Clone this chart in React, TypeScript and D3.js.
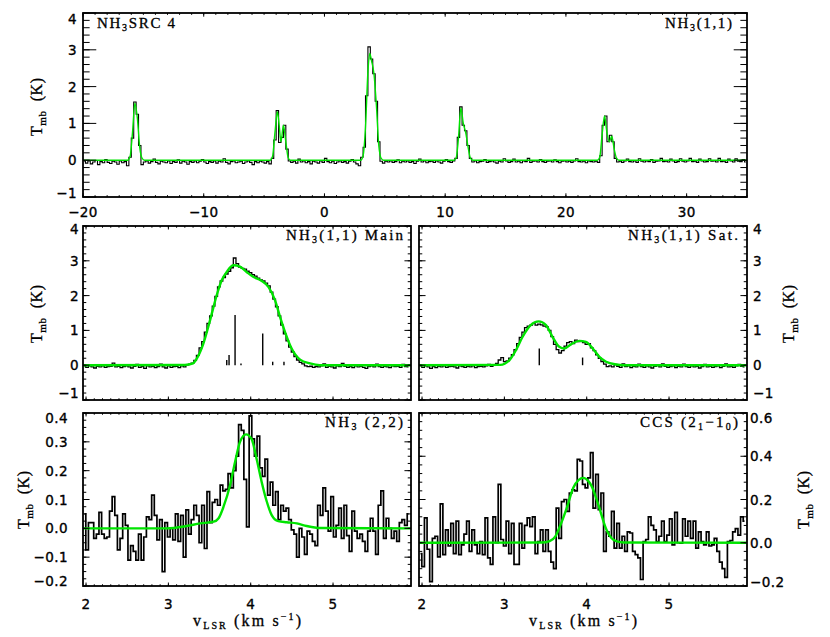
import React from 'react'
import * as d3 from 'd3'

// ---- tick values ----
const topTicksX = [-20, -10, 0, 10, 20, 30]
const topTicksY = [-1, 0, 1, 2, 3, 4]
const lowTicksX = [2, 3, 4, 5]
const nh11TicksY = [-1, 0, 1, 2, 3, 4]
const nh22TicksY = [-0.2, -0.1, 0, 0.1, 0.2, 0.3, 0.4]
const ccsTicksY = [-0.2, 0, 0.2, 0.4, 0.6]

// ---- top panel: full NH3(1,1) spectrum, channel centres from -19.9 km/s, 0.2 km/s wide ----
const topV0 = -19.9
const topDv = 0.2
const topT = [
  -0.03, -0.08, -0.02, -0.1, -0.05, -0.01, -0.12, -0.04, -0.07, 0.02,
  -0.06, -0.09, -0.03, -0.05, -0.11, -0.02, -0.07, -0.04, -0.15,
  0.08, 0.6, 1.58, 1.25, 0.4, -0.12,
  -0.05, -0.02, -0.08, -0.04, 0.03, -0.06, -0.1, -0.03, -0.05, -0.07,
  -0.02, -0.09, -0.04, -0.06, 0.01, -0.08, -0.03, -0.05, -0.11, -0.04,
  -0.06, -0.02, -0.07, -0.03, 0.02, -0.05, -0.09, -0.04, -0.06, -0.02,
  -0.08, -0.03, -0.05, 0.04, -0.06, -0.1, -0.04, -0.02, -0.07, -0.05,
  -0.03, -0.09, -0.05, -0.02, -0.06, -0.12, -0.04, -0.07, -0.03, -0.05,
  -0.08, -0.04, -0.1,
  0.05, 0.55, 1.35, 0.48, 0.62, 0.95, 0.3, -0.02,
  -0.06, -0.03, -0.08, 0.03, -0.05, -0.02, -0.07, -0.04, -0.1, -0.03,
  -0.05, -0.08, -0.02, -0.06, 0.05, -0.04, -0.07, -0.03, -0.09, -0.05,
  -0.02, -0.06, -0.04, -0.08, -0.03, 0.02, -0.05, -0.1, -0.15,
  0.08, 0.35, 1.75, 3.08, 2.75, 2.35, 1.6, 0.5, -0.03,
  -0.08, -0.03, -0.05, -0.02, -0.06, -0.04, 0.01, -0.07, -0.03, -0.05,
  -0.02, -0.06, -0.04, -0.09, -0.03, 0.03, -0.05, -0.02, -0.07, -0.04,
  -0.03, -0.06, -0.02, -0.05, -0.08, -0.03, 0.02, -0.04, -0.06, -0.02,
  0.05, 0.62, 1.45, 0.95, 0.8, 0.4, 0.05,
  -0.05, -0.02, -0.07, -0.04, -0.03, 0.02, -0.06, -0.04, -0.02, -0.05,
  -0.08, -0.03, -0.05, 0.04, -0.02, -0.06, -0.04, 0.03, -0.05, -0.03,
  -0.07, -0.02, -0.04, 0.05, -0.06, -0.03, -0.02, -0.05, 0.02, -0.04,
  -0.06, -0.03, -0.02, -0.05, 0.01, -0.04, -0.07, -0.03, -0.02, -0.05,
  -0.03, -0.06, -0.02, 0.04, -0.04, -0.05, -0.03, -0.07, -0.02, -0.04,
  -0.05, -0.03, -0.06,
  0.12, 0.95, 1.2, 0.5, 0.68, 0.5, 0.05,
  -0.05, -0.03, -0.06, -0.02, 0.03, -0.04, -0.05, -0.02, -0.06, 0.04,
  -0.03, -0.05, -0.02, -0.04, 0.02, -0.06, -0.03, -0.02, 0.05, -0.04,
  -0.03, -0.05, 0.03, -0.02, -0.06, -0.04, 0.04, -0.03, -0.05, -0.02,
  0.05, -0.04, -0.03, -0.06, 0.03, -0.02, -0.05, -0.04, 0.04, -0.03,
  -0.02, -0.05, 0.05, -0.04, -0.03, -0.06, 0.03, -0.02, -0.05, 0.04,
  -0.03, -0.04, 0.02, -0.05,
]
const topFitV = [
  -20, -16.3, -16.1, -15.9, -15.7, -15.5, -15.3, -15.1, -14.9,
  -4.5, -4.3, -4.1, -3.9, -3.75, -3.6, -3.4, -3.2, -3.0, -2.8,
  3.0, 3.2, 3.4, 3.6, 3.75, 3.9, 4.1, 4.3, 4.5, 4.7, 4.9,
  10.7, 10.9, 11.1, 11.3, 11.5, 11.7, 11.9, 12.1, 12.3,
  22.6, 22.8, 23.0, 23.2, 23.4, 23.6, 23.8, 24.0, 24.2, 24.4,
  35,
]
const topFitT = [
  0, 0, 0.1, 0.75, 1.55, 1.15, 0.35, 0.05, 0,
  0, 0.1, 0.75, 1.32, 0.95, 0.5, 0.95, 0.5, 0.06, 0,
  0, 0.12, 0.9, 2.4, 2.9, 2.7, 2.35, 1.5, 0.4, 0.05, 0,
  0, 0.05, 0.6, 1.42, 1.0, 0.75, 0.35, 0.05, 0,
  0, 0.08, 0.7, 1.2, 0.75, 0.5, 0.65, 0.3, 0.05, 0,
  0,
]

// ---- zoomed panels: channel centres from 1.981 km/s, 0.032 km/s wide ----
const chanV0 = 1.981
const chanDv = 0.032

const mainT = [
  -0.04, -0.06, -0.02, -0.05, -0.08, -0.03, -0.05, -0.02, -0.06, -0.04,
  -0.03, 0.06, -0.05, -0.03, -0.07, -0.04, -0.02, -0.05, -0.08, -0.03,
  0.02, -0.06, -0.04, -0.09, -0.02, -0.05, -0.03, -0.07, -0.04, 0.03,
  -0.05, -0.08, -0.02, -0.06, -0.04, -0.03, -0.07, -0.02, -0.05, 0.01,
  0.03, 0.06, 0.14, 0.28, 0.5, 0.68, 0.95, 1.2, 1.42, 1.7,
  1.98, 2.25, 2.42, 2.52, 2.62, 2.7, 2.8, 3.08, 2.92, 2.82,
  2.78, 2.76, 2.7, 2.66, 2.6, 2.56, 2.5, 2.45, 2.42, 2.36,
  2.28, 2.1, 1.9, 1.68, 1.42, 1.15, 0.9, 0.7, 0.52, 0.38,
  0.25, 0.15, 0.08, 0.04, -0.02, -0.04, -0.03, -0.06, -0.04,
  -0.05, -0.02, 0.04, -0.06, -0.03, -0.05, -0.08, -0.02, -0.04, 0.05,
  -0.03, -0.06, -0.04, -0.07, -0.02, -0.05, -0.03, -0.06, -0.09, -0.04,
  -0.02, -0.05, 0.03, -0.04, -0.06, -0.03, -0.05, -0.07, -0.02, -0.04,
  -0.03, -0.06, 0.02, -0.04, -0.05,
]
const mainFitV = [1.963, 3.2, 3.3, 3.345, 3.425, 3.506, 3.587, 3.648, 3.709, 3.79, 3.87, 3.95, 4.03, 4.134, 4.215, 4.295, 4.356, 4.416, 4.497, 4.6, 4.72, 4.84, 5.947]
const mainFitT = [0, 0.005, 0.05, 0.19, 0.62, 1.29, 2.01, 2.44, 2.68, 2.87, 2.83, 2.68, 2.54, 2.42, 2.25, 1.87, 1.39, 0.96, 0.48, 0.16, 0.05, 0, 0]
const mainHfV = [3.709, 3.737, 3.81, 3.882, 4.146, 4.267, 4.404]
const mainHfT = [0.15, 0.29, 1.44, 0.05, 0.91, 0.1, 0.1]

const satT = [
  -0.03, -0.06, -0.02, -0.05, -0.09, -0.04, -0.07, -0.03, -0.05, -0.02,
  -0.06, -0.04, -0.03, -0.05, -0.08, -0.02, -0.04, -0.06, -0.03, -0.05,
  -0.02, -0.07, -0.04, -0.03, -0.05, -0.02, 0.02, -0.03, 0.0, 0.05,
  0.15,
  0.22, 0.1, 0.12, 0.2, 0.3, 0.45, 0.62, 0.8, 0.95, 1.08,
  1.12, 1.15, 1.2, 1.15, 1.18, 1.16, 1.12, 1.1, 1.0, 0.82,
  0.6, 0.45, 0.35, 0.42, 0.55, 0.65, 0.68, 0.62, 0.72, 0.68,
  0.7, 0.65, 0.6, 0.62, 0.5, 0.42, 0.3, 0.2, 0.1, 0.03,
  -0.04, -0.02, -0.05, 0.02,
  -0.03, -0.06, 0.04, -0.04, -0.02, -0.07, -0.03, -0.05, 0.03, -0.04,
  -0.06, -0.02, -0.05, -0.08, -0.03, -0.01, -0.05, 0.04, -0.03, -0.06,
  -0.04, -0.02, -0.07, -0.03, -0.05, 0.03, -0.04, -0.06, -0.02, -0.05,
  -0.03, -0.08, -0.04, 0.02, -0.05, -0.03, -0.06, -0.04, -0.02, -0.07,
  -0.03, 0.04, -0.05, -0.04, -0.06, -0.02, 0.02, -0.03, -0.05,
]
const satFitV = [1.963, 2.95, 3.06, 3.14, 3.22, 3.32, 3.416, 3.505, 3.586, 3.667, 3.728, 3.81, 3.91, 3.99, 4.073, 4.154, 4.235, 4.357, 4.45, 5.947]
const satFitT = [0, 0.01, 0.14, 0.43, 0.81, 1.15, 1.26, 1.15, 0.81, 0.53, 0.48, 0.6, 0.7, 0.67, 0.48, 0.24, 0.1, 0.02, 0, 0]
const satHfV = [3.424, 3.95]
const satHfT = [0.48, 0.22]

const nh22T = [
  0.05, -0.075, 0.02, 0.02, -0.035, -0.02, 0.055, -0.02, -0.035, -0.03,
  0.06, 0.11, 0.045, -0.075, -0.035, 0.05, 0.01, -0.11, -0.06, -0.08,
  -0.11, -0.02, -0.11, -0.03, 0.04, 0.03, 0.115, 0.045, -0.04, 0.03,
  -0.15, 0.02, -0.03, 0.0, -0.04, 0.05, -0.045, 0.045, -0.1, 0.064,
  -0.02, 0.03, 0.08, 0.045, -0.05, 0.08, -0.07,
  0.127, 0.02, 0.09, 0.1, 0.08, 0.15, 0.13, 0.135, 0.19, 0.14,
  0.2, 0.25, 0.36, 0.34, 0.17, 0.005, 0.39, 0.31, 0.25, 0.32,
  0.21, 0.18, 0.24, 0.115, 0.16, 0.08, 0.127,
  0.03, 0.08, 0.06, 0.07, 0.03, -0.005, -0.02, -0.1, 0.0, -0.03,
  -0.09, -0.01, -0.02, -0.045, -0.06, 0.08, 0.045, 0.14, 0.06, -0.01,
  0.11, -0.03, 0.01, 0.07, -0.035, 0.08, -0.025, -0.08, 0.06, -0.01,
  -0.035, -0.02, -0.045, -0.08, -0.01, 0.035, -0.01, -0.09, 0.08, 0.13,
  -0.035, 0.035, 0.0, -0.035, -0.01, -0.045, 0.02, 0.03, 0.01, 0.05,
]
const nh22FitV = [1.963, 2.98, 3.22, 3.385, 3.55, 3.61, 3.67, 3.75, 3.81, 3.87, 3.943, 4.01, 4.07, 4.134, 4.195, 4.255, 4.335, 4.437, 4.56, 4.68, 4.84, 5.947]
const nh22FitT = [0, 0, 0.008, 0.017, 0.023, 0.035, 0.075, 0.15, 0.23, 0.3, 0.326, 0.31, 0.243, 0.16, 0.093, 0.046, 0.025, 0.021, 0.017, 0.008, 0.001, 0]

const ccsT = [
  -0.05, -0.11, 0.115, -0.03, -0.18, 0.02, 0.03, -0.065, 0.18, -0.055,
  0.06, -0.015, 0.09, -0.05, 0.1, -0.055, -0.01, 0.04, 0.1, -0.04,
  0.06, -0.01, -0.05, 0.005, -0.055, 0.115, -0.07, -0.1, 0.12, 0.0,
  0.27, 0.015, -0.015, 0.1, -0.05, 0.09, -0.1, -0.1, 0.09, -0.025,
  0.08, 0.115, 0.075, 0.12, -0.05, 0.005, 0.06, -0.04, 0.06, -0.04,
  -0.09, -0.12, 0.16, 0.02, 0.19, 0.2, 0.145, 0.23, 0.245, 0.24,
  0.386, 0.378, 0.27, 0.254, 0.3, 0.417, 0.16, 0.316, 0.153, 0.23,
  -0.04, 0.05, 0.03, 0.145, -0.025, 0.09, -0.025, 0.03, -0.04, 0.05,
  0.045, -0.04, -0.055, -0.07, -0.17, 0.005, 0.015, 0.12, 0.08, 0.06,
  0.005, 0.03, 0.1, 0.005, 0.035, 0.11, -0.01, 0.14, 0.0, -0.002,
  0.11, 0.03, 0.1, 0.02, 0.1, -0.025, 0.05, 0.005, -0.01, 0.05,
  -0.015, -0.01, 0.02, -0.04, -0.09, -0.12, -0.16, 0.005, 0.01, 0.05,
  0.065, 0.035, 0.12, 0.1,
]
const ccsFitV = [1.963, 3.45, 3.55, 3.62, 3.675, 3.757, 3.837, 3.9, 3.96, 4.02, 4.06, 4.14, 4.24, 4.3, 4.365, 4.45, 5.947]
const ccsFitT = [0, 0.001, 0.008, 0.03, 0.076, 0.16, 0.254, 0.29, 0.3, 0.285, 0.262, 0.177, 0.06, 0.022, 0.006, 0.001, 0]

const GREEN = '#00e400'
const SANS = 'DejaVu Sans, sans-serif'
const SERIF = 'Liberation Serif, serif'
const lowDom: [number, number] = [1.963, 5.947]

type PanelSpec = {
  id: string
  x0: number; y0: number; w: number; h: number
  xDom: [number, number]; yDom: [number, number]
  xMajor: number[]; xMinor: number
  yMajor: number[]; yMinor: number
  xLabelY?: number
  ySide: 'left' | 'right'; yEdge: number; yShift: [number, number]
  yFmt: (d: number) => string
  data: number[]; v0: number; dv: number
  fitV: number[]; fitT: number[]
  hfV?: number[]; hfT?: number[]
  lw: number; gw: number
}

const intFmt = (d: number) => (d < 0 ? '\u2212' + Math.abs(d) : String(d))
const decFmt = d3.format('.1f')

function minorTicks(dom: [number, number], step: number) {
  return d3.range(Math.ceil(dom[0] / step - 1e-6), Math.floor(dom[1] / step + 1e-6) + 1).map(i => i * step)
}

function Panel(p: PanelSpec) {
  const xs = d3.scaleLinear().domain(p.xDom).range([p.x0, p.x0 + p.w])
  const ys = d3.scaleLinear().domain(p.yDom).range([p.y0 + p.h, p.y0])
  const lenY = 0.02 * p.w
  const lenX = 0.02 * p.h
  const bot = p.y0 + p.h
  const right = p.x0 + p.w

  const dataLine = d3.line<number>()
    .x((d, i) => xs(p.v0 + p.dv * i))
    .y(d => ys(d))
    .curve(d3.curveStep)
  const fitLine = d3.line<number>()
    .x((d, i) => xs(p.fitV[i]))
    .y(d => ys(d))
    .curve(d3.curveMonotoneX)

  const xTicks = [
    ...minorTicks(p.xDom, p.xMinor).map(v => ({ v, l: lenX / 2 })),
    ...p.xMajor.map(v => ({ v, l: lenX })),
  ]
  const yTicks = [
    ...minorTicks(p.yDom, p.yMinor).map(v => ({ v, l: lenY / 2 })),
    ...p.yMajor.map(v => ({ v, l: lenY })),
  ]

  return (
    <g>
      <defs>
        <clipPath id={'clip' + p.id}>
          <rect x={p.x0} y={p.y0} width={p.w} height={p.h} />
        </clipPath>
      </defs>
      <g clipPath={`url(#clip${p.id})`}>
        <path d={dataLine(p.data) || ''} fill="none" stroke="#000" strokeWidth={p.lw} />
        {p.hfV && p.hfV.map((v, i) => (
          <line key={i} x1={xs(v)} x2={xs(v)} y1={ys(0)} y2={ys(p.hfT![i])} stroke="#000" strokeWidth={1.4} />
        ))}
        <path d={fitLine(p.fitT) || ''} fill="none" stroke={GREEN} strokeWidth={p.gw} />
      </g>
      <g stroke="#000" strokeWidth={1}>
        {xTicks.map((t, i) => (
          <g key={'x' + i}>
            <line x1={xs(t.v)} x2={xs(t.v)} y1={bot} y2={bot - t.l} />
            <line x1={xs(t.v)} x2={xs(t.v)} y1={p.y0} y2={p.y0 + t.l} />
          </g>
        ))}
        {yTicks.map((t, i) => (
          <g key={'y' + i}>
            <line x1={p.x0} x2={p.x0 + t.l} y1={ys(t.v)} y2={ys(t.v)} />
            <line x1={right} x2={right - t.l} y1={ys(t.v)} y2={ys(t.v)} />
          </g>
        ))}
      </g>
      <rect x={p.x0} y={p.y0} width={p.w} height={p.h} fill="none" stroke="#000" strokeWidth={1.8} />
      <g fontFamily={SANS} fontSize={13.5} fill="#000" stroke="#000" strokeWidth={0.35} letterSpacing={0.4}>
        {p.xLabelY !== undefined && p.xMajor.map(v => (
          <text key={'xl' + v} x={xs(v)} y={p.xLabelY} textAnchor="middle">{intFmt(v)}</text>
        ))}
        {p.yMajor.map((v, i) => {
          let ty = ys(v)
          if (i === 0) ty -= p.yShift[1]
          if (i === p.yMajor.length - 1) ty += p.yShift[0]
          return (
            <text key={'yl' + v} x={p.yEdge} y={ty + 5} textAnchor={p.ySide === 'left' ? 'end' : 'start'}>{p.yFmt(v)}</text>
          )
        })}
      </g>
    </g>
  )
}

function YTitle({ x, y }: { x: number; y: number }) {
  return (
    <text transform={`translate(${x},${y}) rotate(-90)`} textAnchor="middle" fontFamily={SERIF} fontSize={16}
      stroke="#000" strokeWidth={0.3} textLength={58} lengthAdjust="spacing">
      T<tspan dy={4} fontSize={11}>mb</tspan><tspan dy={-4}>{'\u00a0\u00a0(K)'}</tspan>
    </text>
  )
}

function XTitle({ x, y }: { x: number; y: number }) {
  return (
    <text x={x} y={y} textAnchor="middle" fontFamily={SERIF} fontSize={16} stroke="#000" strokeWidth={0.3}
      textLength={108} lengthAdjust="spacing">
      v<tspan dy={3} fontSize={10}>LSR</tspan><tspan dy={-3}>{'\u00a0(km\u00a0s'}</tspan><tspan dy={-6} fontSize={10}>{'\u22121'}</tspan><tspan dy={6}>)</tspan>
    </text>
  )
}

export default function App() {
  const common = { v0: chanV0, dv: chanDv, xDom: lowDom, xMajor: lowTicksX, xMinor: 0.1 }
  return (
    <svg width={830} height={637} style={{ position: 'absolute', left: 0, top: 0, background: '#fff' }}>
      <Panel id="top" x0={83} y0={13} w={664} h={184} xDom={[-20, 35]} yDom={[-1, 4]}
        xMajor={topTicksX} xMinor={1} yMajor={topTicksY} yMinor={0.2} xLabelY={217}
        ySide="left" yEdge={77} yShift={[6, 4]} yFmt={intFmt}
        data={topT} v0={topV0} dv={topDv} fitV={topFitV} fitT={topFitT} lw={1.1} gw={1.4} />
      <Panel id="main" x0={83} y0={226} w={328} h={174} {...common} yDom={[-1, 4]}
        yMajor={nh11TicksY} yMinor={0.2} ySide="left" yEdge={79} yShift={[3, 7]} yFmt={intFmt}
        data={mainT} fitV={mainFitV} fitT={mainFitT} hfV={mainHfV} hfT={mainHfT} lw={1.3} gw={2.4} />
      <Panel id="sat" x0={419} y0={226} w={328} h={174} {...common} yDom={[-1, 4]}
        yMajor={nh11TicksY} yMinor={0.2} ySide="right" yEdge={753} yShift={[3, 7]} yFmt={intFmt}
        data={satT} fitV={satFitV} fitT={satFitT} hfV={satHfV} hfT={satHfT} lw={1.3} gw={2.4} />
      <Panel id="nh22" x0={83} y0={413} w={328} h={173} {...common} yDom={[-0.2, 0.4]}
        yMajor={nh22TicksY} yMinor={0.025} xLabelY={609} ySide="left" yEdge={68} yShift={[5, 5]} yFmt={decFmt}
        data={nh22T} fitV={nh22FitV} fitT={nh22FitT} lw={1.7} gw={2.4} />
      <Panel id="ccs" x0={419} y0={413} w={328} h={173} {...common} yDom={[-0.2, 0.6]}
        yMajor={ccsTicksY} yMinor={0.04} xLabelY={609} ySide="right" yEdge={750} yShift={[5, 4]} yFmt={decFmt}
        data={ccsT} fitV={ccsFitV} fitT={ccsFitT} lw={1.7} gw={2.4} />

      <g fontFamily={SERIF} fontSize={15} fill="#000" stroke="#000" strokeWidth={0.3}>
        <text x={97} y={28} textLength={78} lengthAdjust="spacing">NH<tspan dy={3} fontSize={10}>3</tspan><tspan dy={-3}>{'SRC\u00a04'}</tspan></text>
        <text x={732} y={28} textAnchor="end" textLength={67} lengthAdjust="spacing">NH<tspan dy={3} fontSize={10}>3</tspan><tspan dy={-3}>(1,1)</tspan></text>
        <text x={403} y={240} textAnchor="end" textLength={117} lengthAdjust="spacing">NH<tspan dy={3} fontSize={10}>3</tspan><tspan dy={-3}>{'(1,1)\u00a0Main'}</tspan></text>
        <text x={738} y={240} textAnchor="end" textLength={110} lengthAdjust="spacing">NH<tspan dy={3} fontSize={10}>3</tspan><tspan dy={-3}>{'(1,1)\u00a0Sat.'}</tspan></text>
        <text x={403} y={427} textAnchor="end" textLength={78} lengthAdjust="spacing">NH<tspan dy={3} fontSize={10}>3</tspan><tspan dy={-3}>{'\u00a0(2,2)'}</tspan></text>
        <text x={738} y={427} textAnchor="end" textLength={98} lengthAdjust="spacing">{'CCS\u00a0(2'}<tspan dy={3} fontSize={10}>1</tspan><tspan dy={-3}>{'\u22121'}</tspan><tspan dy={3} fontSize={10}>0</tspan><tspan dy={-3}>)</tspan></text>
      </g>

      <YTitle x={42} y={107} />
      <YTitle x={42} y={314} />
      <YTitle x={29} y={500} />
      <YTitle x={794} y={314} />
      <YTitle x={809} y={500} />
      <XTitle x={247} y={626} />
      <XTitle x={583} y={626} />
    </svg>
  )
}
